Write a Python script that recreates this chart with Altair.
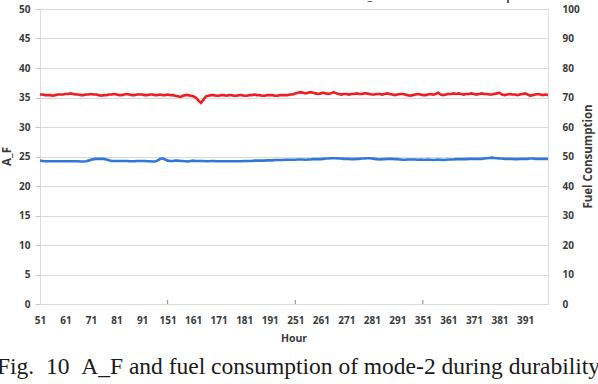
import altair as alt
import pandas as pd

# Operating hours logged in four blocks of 50 hours each
hours = (list(range(51, 101)) + list(range(151, 201))
         + list(range(251, 301)) + list(range(351, 401)))

# Air/fuel ratio (left axis)
a_f = [
    35.5, 35.5, 35.4, 35.4, 35.4, 35.3, 35.4, 35.5, 35.5, 35.5,
    35.6, 35.6, 35.7, 35.6, 35.5, 35.5, 35.4, 35.4, 35.5, 35.5,
    35.6, 35.5, 35.5, 35.4, 35.3, 35.4, 35.4, 35.5, 35.5, 35.6,
    35.5, 35.4, 35.4, 35.5, 35.6, 35.5, 35.4, 35.4, 35.5, 35.5,
    35.5, 35.4, 35.4, 35.5, 35.5, 35.4, 35.4, 35.5, 35.4, 35.4,
    35.5, 35.4, 35.4, 35.3, 35.2, 35.1, 35.3, 35.4, 35.4, 35.3,
    35.2, 35.0, 34.5, 34.1, 34.6, 35.2, 35.3, 35.4, 35.4, 35.3,
    35.3, 35.4, 35.4, 35.3, 35.4, 35.4, 35.3, 35.3, 35.4, 35.4,
    35.3, 35.3, 35.4, 35.4, 35.5, 35.4, 35.4, 35.3, 35.3, 35.4,
    35.4, 35.4, 35.3, 35.3, 35.4, 35.4, 35.4, 35.4, 35.5, 35.5,
    35.7, 35.8, 35.9, 35.8, 35.7, 35.8, 35.9, 35.8, 35.7, 35.6,
    35.7, 35.8, 35.7, 35.6, 35.7, 35.9, 35.7, 35.6, 35.5, 35.6,
    35.6, 35.5, 35.6, 35.6, 35.7, 35.6, 35.6, 35.7, 35.7, 35.6,
    35.5, 35.5, 35.6, 35.6, 35.5, 35.6, 35.7, 35.6, 35.5, 35.4,
    35.5, 35.6, 35.6, 35.5, 35.4, 35.3, 35.4, 35.5, 35.6, 35.5,
    35.4, 35.4, 35.5, 35.6, 35.5, 35.6, 35.8, 35.5, 35.4, 35.5,
    35.6, 35.6, 35.7, 35.6, 35.7, 35.6, 35.5, 35.6, 35.6, 35.7,
    35.6, 35.5, 35.6, 35.7, 35.6, 35.6, 35.5, 35.5, 35.6, 35.7,
    35.8, 35.5, 35.4, 35.5, 35.6, 35.5, 35.5, 35.4, 35.5, 35.6,
    35.7, 35.5, 35.3, 35.4, 35.5, 35.6, 35.5, 35.4, 35.5, 35.4,
]

# Fuel consumption (right axis)
fuel = [
    48.6, 48.5, 48.4, 48.4, 48.4, 48.4, 48.4, 48.4, 48.4, 48.4,
    48.4, 48.4, 48.4, 48.4, 48.4, 48.4, 48.3, 48.3, 48.4, 48.6,
    48.9, 49.1, 49.2, 49.2, 49.2, 49.2, 49.0, 48.7, 48.5, 48.5,
    48.5, 48.5, 48.5, 48.5, 48.5, 48.4, 48.4, 48.4, 48.5, 48.5,
    48.5, 48.5, 48.4, 48.4, 48.3, 48.3, 48.6, 49.2, 49.4, 49.0,
    48.6, 48.5, 48.5, 48.6, 48.6, 48.5, 48.5, 48.4, 48.3, 48.5,
    48.6, 48.5, 48.5, 48.5, 48.5, 48.4, 48.4, 48.5, 48.5, 48.4,
    48.4, 48.4, 48.4, 48.4, 48.4, 48.4, 48.4, 48.4, 48.4, 48.4,
    48.5, 48.5, 48.5, 48.5, 48.6, 48.6, 48.6, 48.6, 48.6, 48.7,
    48.7, 48.7, 48.8, 48.8, 48.8, 48.8, 48.9, 48.9, 48.9, 48.9,
    48.9, 49.0, 49.0, 49.0, 48.9, 49.0, 49.0, 49.1, 49.1, 49.1,
    49.1, 49.2, 49.3, 49.3, 49.4, 49.4, 49.4, 49.3, 49.3, 49.2,
    49.2, 49.2, 49.1, 49.1, 49.2, 49.2, 49.3, 49.3, 49.4, 49.4,
    49.3, 49.2, 49.1, 49.0, 49.1, 49.1, 49.2, 49.2, 49.2, 49.1,
    49.1, 49.0, 48.9, 48.9, 49.0, 49.0, 49.0, 49.0, 48.9, 49.0,
    48.9, 48.9, 49.0, 48.9, 48.8, 48.9, 49.0, 48.9, 48.8, 48.9,
    49.0, 49.0, 49.0, 49.1, 49.1, 49.1, 49.1, 49.1, 49.2, 49.2,
    49.2, 49.2, 49.2, 49.2, 49.3, 49.4, 49.5, 49.6, 49.5, 49.4,
    49.3, 49.3, 49.2, 49.2, 49.2, 49.2, 49.1, 49.1, 49.2, 49.2,
    49.2, 49.2, 49.3, 49.3, 49.2, 49.2, 49.2, 49.2, 49.2, 49.2,
]

hour_labels = hours[::10]
tick_hours = [151, 251, 351]
left_ticks = list(range(0, 51, 5))
right_ticks = list(range(0, 101, 10))

W, H = 508, 295
AXIS_FONT = "Open Sans"
LABEL_COLOR = "#3a3a3a"
NBSP = "\u00a0"

df = pd.DataFrame({"hour": hours, "a_f": a_f, "fuel": fuel})

x_enc = alt.X(
    "hour:O",
    scale=alt.Scale(type="point", padding=0),
    axis=alt.Axis(
        values=hour_labels, labelAngle=0, ticks=False, domain=False,
        labelPadding=11, labelFont=AXIS_FONT, labelFontWeight="bold",
        labelFontSize=10, labelColor=LABEL_COLOR, title=None,
        labelOverlap=False,
    ),
)

af_line = alt.Chart(df).mark_line(color="#ee1d23", strokeWidth=2.6).encode(
    x=x_enc,
    y=alt.Y(
        "a_f:Q",
        scale=alt.Scale(domain=[0, 50], nice=False),
        axis=alt.Axis(
            values=left_ticks, grid=True, gridColor="#d9d9d9", gridWidth=1,
            domain=False, tickSize=5, tickColor="#c8c8c8", labelPadding=5,
            labelFont=AXIS_FONT, labelFontWeight="bold", labelFontSize=10,
            labelColor=LABEL_COLOR, title=None,
        ),
    ),
)

fuel_line = alt.Chart(df).mark_line(color="#2f78d6", strokeWidth=2.6).encode(
    x=x_enc,
    y=alt.Y(
        "fuel:Q",
        scale=alt.Scale(domain=[0, 100], nice=False),
        axis=alt.Axis(
            orient="right", values=right_ticks, grid=False, domain=False,
            ticks=False, labelPadding=14, labelFont=AXIS_FONT,
            labelFontWeight="bold", labelFontSize=10, labelColor=LABEL_COLOR,
            title=None,
        ),
    ),
)

# Small category tick marks on the hour axis
ticks = alt.Chart(pd.DataFrame({"hour": tick_hours})).mark_rule(
    color="#868686", strokeWidth=1
).encode(
    x=x_enc,
    y=alt.value(H - 4),
    y2=alt.value(H),
)

lines = alt.layer(af_line, fuel_line, ticks).resolve_scale(y="independent")


def label(text, x, y, size, angle=0, font=AXIS_FONT, weight="bold",
          align="center", baseline="middle", color=LABEL_COLOR):
    return alt.Chart(pd.DataFrame({"t": [text]})).mark_text(
        font=font, fontSize=size, fontWeight=weight, angle=angle,
        align=align, baseline=baseline, color=color,
    ).encode(text="t:N", x=alt.value(x), y=alt.value(y))


left_title = label("A_F", -32, H / 2, 11.5, angle=270)
right_title = label("Fuel Consumption", 549, H / 2, 11.5, angle=270)
x_title = label("Hour", W / 2, 330, 10.5)
legend_af = label("A_F", 320, -9, 11, align="left", baseline="alphabetic")
legend_fuel = label("Fuel consumption", 397, -9, 11, align="left",
                    baseline="alphabetic")
caption_text = ("Fig." + NBSP * 2 + "10" + NBSP * 2
                + "A_F and fuel consumption of mode-2 during durability")
caption = label(
    caption_text, -43, 365, 23.5, font="Liberation Serif", weight="normal",
    align="left", baseline="alphabetic", color="#1a1a1a",
)

chart = alt.layer(
    lines, left_title, right_title, x_title,
    legend_af, legend_fuel, caption,
).properties(
    width=W,
    height=H,
    autosize=alt.AutoSizeParams(type="none"),
    padding={"left": 40, "top": 9, "right": 50, "bottom": 80},
).configure_view(
    stroke="#868686", strokeWidth=1
).configure(background="white")

chart.save("out.html", embed_options={"renderer": "svg", "actions": False})
